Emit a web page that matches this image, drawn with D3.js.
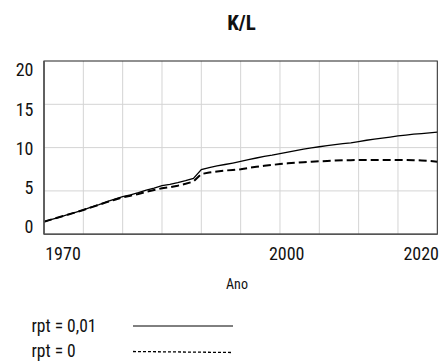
<!DOCTYPE html>
<html>
<head>
<meta charset="utf-8">
<script src="https://cdn.jsdelivr.net/npm/d3@7"></script>
<style>
  html, body { margin: 0; padding: 0; background: #fff; }
  svg { display: block; }
  text { font-family: "Roboto Condensed", "Roboto", "Liberation Sans Narrow", sans-serif; font-stretch: condensed; fill: #111; }
</style>
</head>
<body>
<script>
const years = d3.range(1970, 2021);
const seriesSolid = [1.44,1.72,1.98,2.25,2.52,2.80,3.12,3.42,3.75,4.05,4.33,4.55,4.80,5.10,5.32,5.60,5.75,5.95,6.18,6.45,7.45,7.70,7.88,8.05,8.22,8.40,8.60,8.80,8.98,9.12,9.30,9.48,9.65,9.82,9.96,10.10,10.22,10.35,10.45,10.55,10.70,10.85,10.98,11.10,11.22,11.35,11.45,11.55,11.62,11.70,11.78];
const seriesDashed = [1.44,1.72,1.98,2.25,2.52,2.80,3.10,3.40,3.70,3.98,4.25,4.45,4.65,4.90,5.10,5.30,5.42,5.60,5.82,6.08,6.95,7.12,7.25,7.35,7.42,7.50,7.65,7.78,7.90,8.00,8.10,8.18,8.25,8.32,8.38,8.42,8.46,8.50,8.53,8.55,8.57,8.58,8.58,8.58,8.58,8.57,8.56,8.55,8.52,8.45,8.38];
const seriesNames = ["rpt = 0,01", "rpt = 0"];
const xTickLabels = [1970, 2000, 2020];
const yTickLabels = [0, 5, 10, 15, 20];
const titleText = "K/L";
const xTitle = "Ano";

const W = 439, H = 361;
const box = {left: 44, right: 437.3, top: 61, bottom: 234.2};

const svg = d3.select("body").append("svg").attr("width", W).attr("height", H);

const x = d3.scaleLinear().domain([1970, 2020]).range([box.left, box.right]);
const y = d3.scaleLinear().domain([0, 20]).range([box.bottom, box.top]);
// label placement scales (labels sit slightly inside the frame)
const xLab = d3.scaleLinear().domain([1970, 2000]).range([63, 286.7]);
const yLab = d3.scaleLinear().domain([0, 20]).range([226.7, 70]);

// grid
const g = svg.append("g");
g.selectAll(".vg").data(d3.range(1975, 2020, 5)).join("line")
  .attr("x1", d => x(d)).attr("x2", d => x(d))
  .attr("y1", box.top).attr("y2", box.bottom)
  .attr("stroke", "#d4d4d4").attr("stroke-width", 1);
g.selectAll(".hg").data([5, 10, 15]).join("line")
  .attr("x1", box.left).attr("x2", box.right)
  .attr("y1", d => y(d)).attr("y2", d => y(d))
  .attr("stroke", "#d4d4d4").attr("stroke-width", 1);

// lines
const line = d3.line().x((d, i) => x(years[i])).y(d => y(d));
svg.append("path").datum(seriesSolid).attr("d", line)
  .attr("fill", "none").attr("stroke", "#000").attr("stroke-width", 1.3);
svg.append("path").datum(seriesDashed).attr("d", line)
  .attr("fill", "none").attr("stroke", "#000").attr("stroke-width", 2).attr("stroke-dasharray", "8,4");

// frame
svg.append("rect").attr("x", box.left).attr("y", box.top)
  .attr("width", box.right - box.left).attr("height", box.bottom - box.top)
  .attr("fill", "none").attr("stroke", "#222").attr("stroke-width", 1);
svg.append("line").attr("x1", box.left).attr("x2", box.left).attr("y1", box.top).attr("y2", box.bottom)
  .attr("stroke", "#555").attr("stroke-width", 1.6);
svg.append("line").attr("x1", box.left).attr("x2", box.right).attr("y1", box.bottom).attr("y2", box.bottom)
  .attr("stroke", "#555").attr("stroke-width", 1.6);

// tick labels
svg.selectAll(".yl").data(yTickLabels).join("text")
  .attr("x", 33.5).attr("y", d => yLab(d)).attr("dy", "0.36em")
  .attr("text-anchor", "end").attr("font-size", 18).text(d => d);
svg.selectAll(".xl").data(xTickLabels).join("text")
  .attr("x", (d, i) => i === xTickLabels.length - 1 ? W : xLab(d))
  .attr("y", 253.5).attr("dy", "0.36em")
  .attr("text-anchor", (d, i) => i === xTickLabels.length - 1 ? "end" : "middle")
  .attr("font-size", 18).text(d => d);

// titles
svg.append("text").attr("x", 241.5).attr("y", 22.5).attr("dy", "0.36em")
  .attr("text-anchor", "middle").attr("font-size", 21).attr("font-weight", "bold").text(titleText);
svg.append("text").attr("x", 237).attr("y", 283.5).attr("dy", "0.36em")
  .attr("text-anchor", "middle").attr("font-size", 14).text(xTitle);

// legend
const legY = [326, 351.5];
const leg = svg.selectAll(".leg").data(seriesNames).join("g");
leg.append("text").attr("x", 31.5).attr("y", (d, i) => legY[i]).attr("dy", "0.33em")
  .attr("font-size", 17.5).text(d => d);
leg.append("line").attr("x1", 133).attr("x2", 233)
  .attr("y1", (d, i) => legY[i]).attr("y2", (d, i) => legY[i] + (i === 0 ? 0 : 1))
  .attr("stroke", "#000").attr("stroke-width", (d, i) => i === 0 ? 1 : 1.3)
  .attr("stroke-dasharray", (d, i) => i === 0 ? null : "3,2");
</script>
</body>
</html>
